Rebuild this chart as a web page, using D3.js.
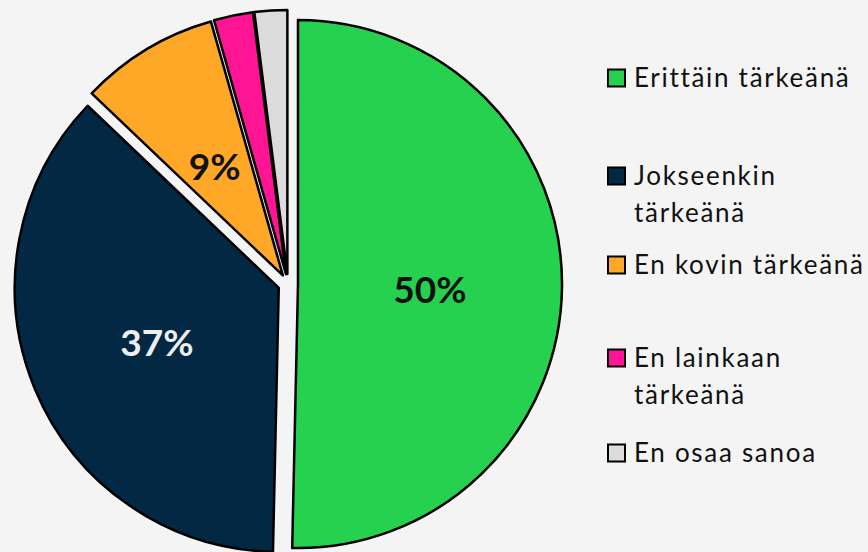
<!DOCTYPE html>
<html>
<head>
<meta charset="utf-8">
<script src="https://cdn.jsdelivr.net/npm/d3@7.9.0/dist/d3.min.js"></script>
<style>
  html, body { margin: 0; padding: 0; background: #f4f4f4; }
  svg { display: block; }
</style>
</head>
<body>
<div id="chart"></div>
<script>
// slice data
const categories = ['Erittäin tärkeänä', 'Jokseenkin tärkeänä', 'En kovin tärkeänä', 'En lainkaan tärkeänä', 'En osaa sanoa'];
const values = [50.4, 36.8, 8.5, 2.4, 2.0];
const labels = ['50%', '37%', '9%', '', ''];
const colors = ['#26d14f', '#022844', '#ffa726', '#ff1493', '#dcdcdc'];
const labelColors = ['#111', '#eeeeee', '#111', '#111', '#111'];
// legend lines (wrapped like the original)
const legendLines = [['Erittäin tärkeänä'], ['Jokseenkin', 'tärkeänä'], ['En kovin tärkeänä'], ['En lainkaan', 'tärkeänä'], ['En osaa sanoa']];

const width = 868, height = 552;
const cx = 288, cy = 284, radius = 264, explode = 10;

const svg = d3.select('#chart').append('svg')
  .attr('width', width).attr('height', height);

const data = categories.map((c, i) => ({ name: c, value: values[i], i }));

const pie = d3.pie().value(d => d.value).sort(null);
const arc = d3.arc().innerRadius(0).outerRadius(radius);
const arcs = pie(data);

// offset each slice outward along its bisector
const shift = d => {
  const a = (d.startAngle + d.endAngle) / 2;
  return [Math.sin(a) * explode, -Math.cos(a) * explode];
};

const g = svg.append('g').attr('transform', `translate(${cx},${cy})`);

g.selectAll('path')
  .data(arcs)
  .join('path')
  .attr('transform', d => `translate(${shift(d)})`)
  .attr('d', arc)
  .attr('fill', d => colors[d.data.i])
  .attr('stroke', '#000')
  .attr('stroke-width', 2.5)
  .attr('stroke-linejoin', 'round');

const labelArc = d3.arc().innerRadius(radius * 0.5).outerRadius(radius * 0.5);

g.selectAll('text.pct')
  .data(arcs)
  .join('text')
  .attr('class', 'pct')
  .attr('transform', d => {
    const [sx, sy] = shift(d);
    const [lx, ly] = labelArc.centroid(d);
    return `translate(${lx + sx},${ly + sy + 4})`;
  })
  .attr('text-anchor', 'middle')
  .attr('dy', '0.36em')
  .attr('font-family', 'Lato, sans-serif')
  .attr('font-weight', 'bold')
  .attr('font-size', 37)
  .attr('fill', d => labelColors[d.data.i])
  .text(d => labels[d.data.i]);

// legend
const legendY = [78, 176, 265, 358, 453];
const lineGap = 37;
const legend = svg.append('g').attr('class', 'legend');

const items = legend.selectAll('g')
  .data(legendLines)
  .join('g')
  .attr('transform', (d, i) => `translate(608,${legendY[i]})`);

items.append('rect')
  .attr('x', 0).attr('y', -8.5)
  .attr('width', 17).attr('height', 17)
  .attr('fill', (d, i) => colors[i])
  .attr('stroke', '#000')
  .attr('stroke-width', 2);

items.each(function(lines) {
  const t = d3.select(this).append('text')
    .attr('font-family', 'Lato, sans-serif')
    .attr('font-size', 26)
    .attr('letter-spacing', 1.7)
    .attr('fill', '#111');
  lines.forEach((ln, j) => {
    t.append('tspan')
      .attr('x', 26)
      .attr('y', j * lineGap)
      .attr('dy', '0.36em')
      .text(ln);
  });
});
</script>
</body>
</html>
